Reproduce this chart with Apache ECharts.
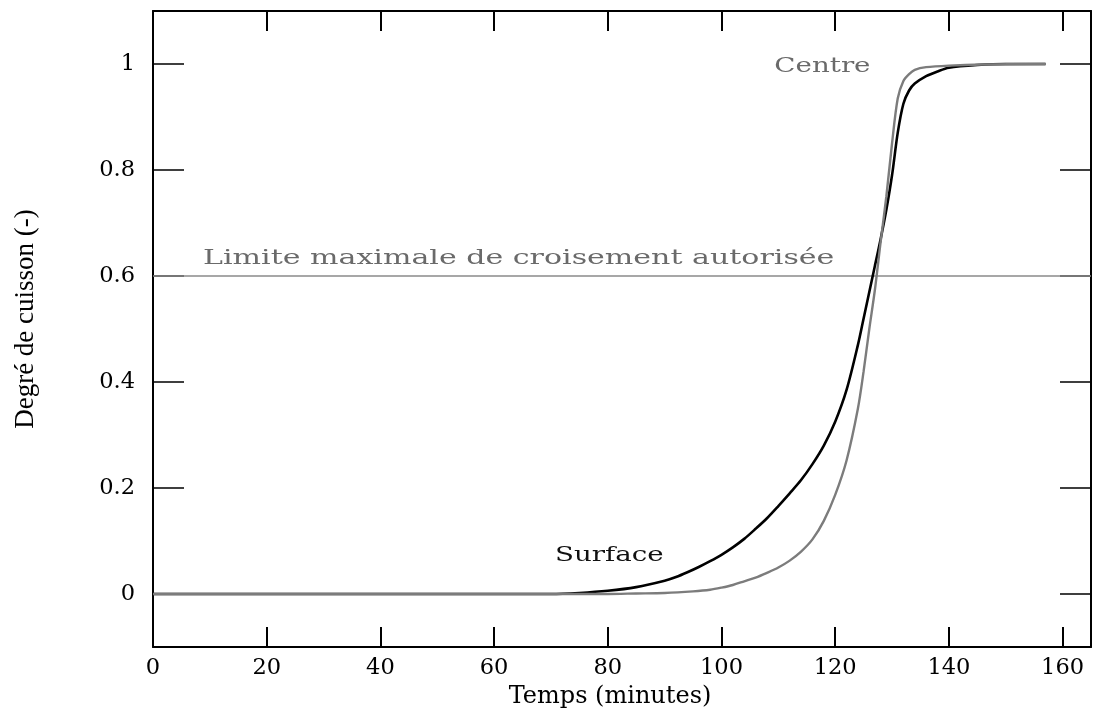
<!DOCTYPE html>
<html>
<head>
<meta charset="utf-8">
<script src="https://cdn.jsdelivr.net/npm/echarts@6/dist/echarts.min.js"></script>
<style>
html,body{margin:0;padding:0;background:#fff;}
#chart{width:1095px;height:711px;}
</style>
</head>
<body>
<div id="chart"></div>
<script>
// ---- Data ----
const timeSurface = [0, 70, 75, 80, 85, 90, 92, 94, 96, 98, 100, 102, 104, 106, 108, 110, 112, 114, 116, 118, 120, 122, 124, 125, 126, 127, 128, 129, 130, 131, 132, 133, 134, 136, 138, 140, 145, 150, 157];
const surface     = [0, 0, 0.002, 0.006, 0.013, 0.025, 0.032, 0.041, 0.051, 0.062, 0.074, 0.088, 0.104, 0.123, 0.143, 0.166, 0.19, 0.215, 0.245, 0.28, 0.325, 0.385, 0.47, 0.52, 0.57, 0.62, 0.67, 0.725, 0.79, 0.87, 0.925, 0.95, 0.963, 0.977, 0.986, 0.993, 0.998, 1.0, 1.0];

const timeCentre = [0, 80, 85, 90, 95, 98, 100, 102, 104, 106, 108, 110, 112, 114, 116, 118, 120, 122, 124, 125, 126, 127, 128, 129, 130, 131, 132, 133, 134, 136, 140, 146, 157];
const centre     = [0, 0, 0.001, 0.002, 0.005, 0.008, 0.012, 0.017, 0.024, 0.031, 0.04, 0.05, 0.063, 0.08, 0.103, 0.138, 0.187, 0.252, 0.35, 0.42, 0.5, 0.575, 0.665, 0.75, 0.85, 0.935, 0.968, 0.981, 0.989, 0.994, 0.997, 0.999, 1.0];

const limitX = [0, 165];
const limitY = [0.6, 0.6];

const yTickValues = [0, 0.2, 0.4, 0.6, 0.8, 1];
const xTickLabels = ['0', '20', '40', '60', '80', '100', '120', '140', '160'];

const xTitle = 'Temps (minutes)';
const yTitle = 'Degré de cuisson (-)';
const labelLimit = 'Limite maximale de croisement autorisée';
const labelCentre = 'Centre';
const labelSurface = 'Surface';

// annotation anchors in data coordinates [x, y]
const anchorLimit = [8.8, 0.633];
const anchorCentre = [109.3, 0.995];
const anchorSurface = [70.7, 0.071];

// ---- Build ----
const zip = (xs, ys) => xs.map((x, i) => [x, ys[i]]);

const chart = echarts.init(document.getElementById('chart'), null, {renderer: 'canvas'});

const serif = '"DejaVu Serif", serif';
const tickFont = {fontFamily: serif, fontSize: 22.5, color: '#000'};

const xCommon = {
  type: 'value', min: 0, max: 165, interval: 20,
  axisLine: {show: true, onZero: false, lineStyle: {color: '#000', width: 2}},
  axisTick: {show: true, inside: true, length: 20, lineStyle: {color: '#000', width: 2}},
  splitLine: {show: false}
};
const yCommon = {
  type: 'value', min: -0.1, max: 1.1,
  axisLine: {show: true, onZero: false, lineStyle: {color: '#000', width: 2}},
  axisTick: {show: true, inside: true, length: 31, customValues: yTickValues, lineStyle: {color: '#000', width: 1.5}},
  splitLine: {show: false}
};

const option = {
  backgroundColor: '#fff',
  animation: false,
  grid: {left: 153, right: 4, top: 11, bottom: 64, containLabel: false, outerBoundsMode: 'none'},
  xAxis: [
    Object.assign({}, xCommon, {
      position: 'bottom',
      name: xTitle, nameLocation: 'middle', nameGap: 30,
      nameTextStyle: {fontFamily: serif, fontSize: 24, color: '#000', padding: [0, 24, 0, 0]},
      axisLabel: Object.assign({show: true, margin: 10, formatter: (v) => xTickLabels[Math.round(v / 20)] ?? ''}, tickFont)
    }),
    Object.assign({}, xCommon, {position: 'top', axisLabel: {show: false}})
  ],
  yAxis: [
    Object.assign({}, yCommon, {
      position: 'left',
      name: yTitle, nameLocation: 'middle', nameGap: 114,
      nameTextStyle: {fontFamily: '"Liberation Serif", serif', fontSize: 27, color: '#000', padding: [0, 0, 0, 20]},
      axisLabel: Object.assign({show: true, margin: 18, customValues: yTickValues,
        formatter: (v) => String(Math.round(v * 10) / 10)}, tickFont)
    }),
    Object.assign({}, yCommon, {position: 'right', axisLabel: {show: false}})
  ],
  series: [
    {
      name: 'Limite', type: 'line', data: zip(limitX, limitY), symbol: 'none',
      lineStyle: {color: '#8a8a8a', width: 1.6}, silent: true, z: 3
    },
    {
      name: 'Surface', type: 'line', data: zip(timeSurface, surface), symbol: 'none',
      smooth: 0.3,
      lineStyle: {color: '#000', width: 2.6}, z: 4
    },
    {
      name: 'Centre', type: 'line', data: zip(timeCentre, centre), symbol: 'none',
      smooth: 0.3,
      lineStyle: {color: '#7c7c7c', width: 2.4}, z: 5
    }
  ]
};
chart.setOption(option);

function annotation(text, anchor, color, sx) {
  const p = chart.convertToPixel({xAxisIndex: 0, yAxisIndex: 0}, anchor);
  return {
    type: 'text', x: p[0], y: p[1], scaleX: sx, z: 10,
    style: {text: text, fontFamily: serif, fontSize: 19.5, fill: color, align: 'left', verticalAlign: 'middle'}
  };
}
chart.setOption({
  graphic: [
    annotation(labelLimit, anchorLimit, '#6a6a6a', 1.54),
    annotation(labelCentre, anchorCentre, '#6a6a6a', 1.42),
    annotation(labelSurface, anchorSurface, '#111', 1.42)
  ]
});
</script>
</body>
</html>
